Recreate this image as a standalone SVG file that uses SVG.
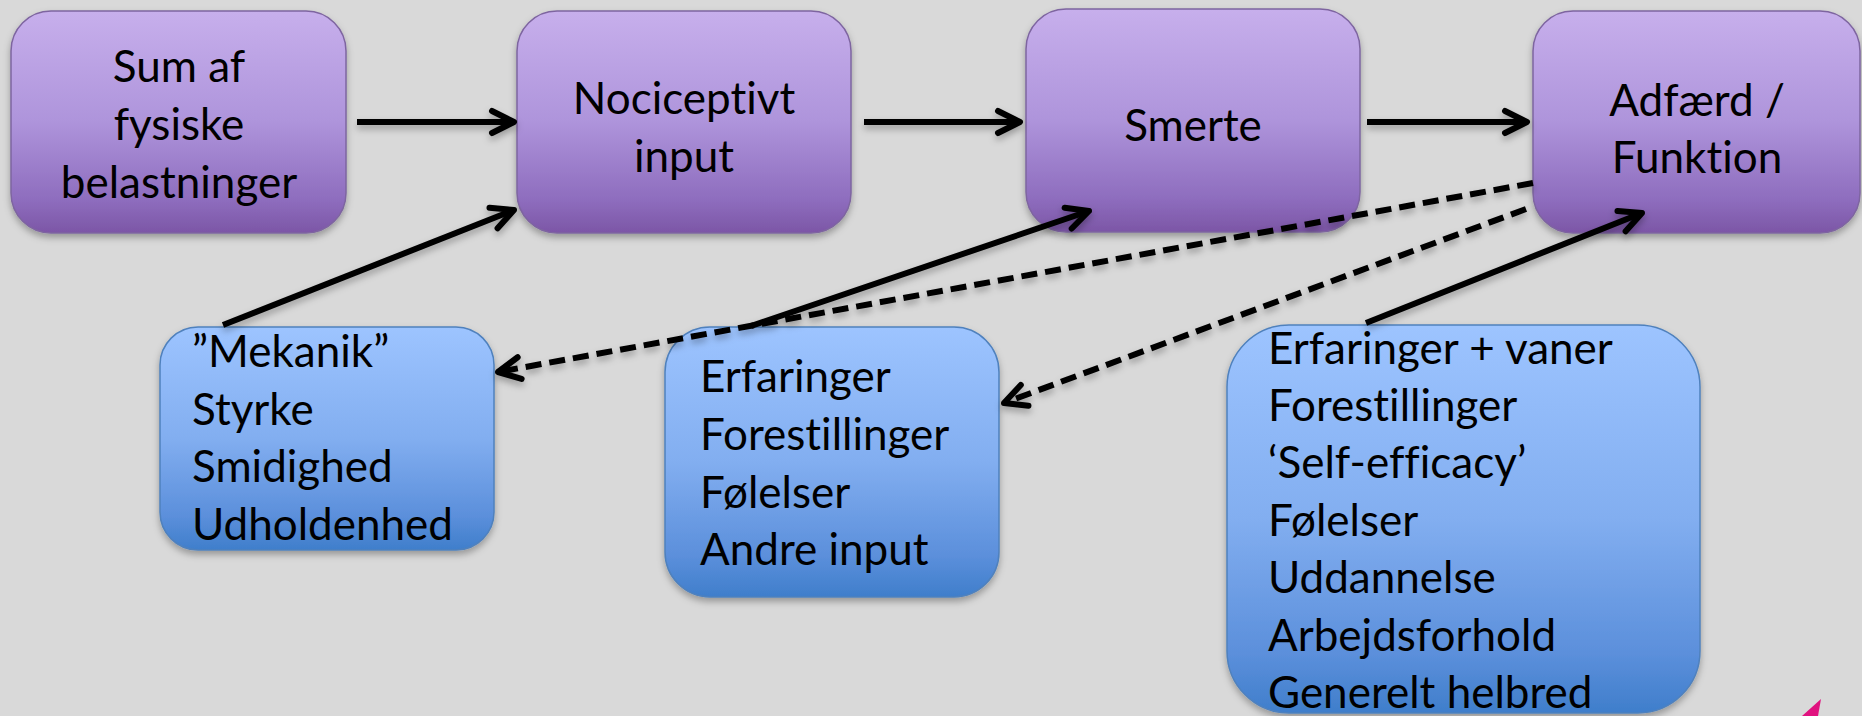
<svg xmlns="http://www.w3.org/2000/svg" width="1862" height="716" viewBox="0 0 1862 716">
  <defs>
    <linearGradient id="gPurple" x1="0" y1="0" x2="0" y2="1">
      <stop offset="0" stop-color="#C7AFEC"/>
      <stop offset="0.5" stop-color="#AE94DB"/>
      <stop offset="0.85" stop-color="#8E6DBE"/>
      <stop offset="1" stop-color="#7C56A6"/>
    </linearGradient>
    <linearGradient id="gBlue" x1="0" y1="0" x2="0" y2="1">
      <stop offset="0" stop-color="#9DC4FF"/>
      <stop offset="0.5" stop-color="#82AEF0"/>
      <stop offset="0.85" stop-color="#5B8FDB"/>
      <stop offset="1" stop-color="#3F7ECB"/>
    </linearGradient>
    <filter id="shadow" x="-10%" y="-10%" width="120%" height="130%">
      <feDropShadow dx="0" dy="4" stdDeviation="3.5" flood-color="#000" flood-opacity="0.3"/>
    </filter>
    <marker id="arrow" viewBox="-28 -16 32 32" markerUnits="userSpaceOnUse" markerWidth="32" markerHeight="32" refX="0" refY="0" orient="auto">
      <path d="M-22,-11 L0,0 L-22,11" fill="none" stroke="#000" stroke-width="6" stroke-linecap="round" stroke-linejoin="round"/>
    </marker>
    <style>
      .purple { fill: url(#gPurple); stroke: #7E65A0; stroke-width: 1.5; filter: url(#shadow); }
      .blue { fill: url(#gBlue); stroke: #4F81BD; stroke-width: 1.5; filter: url(#shadow); }
      .t { font-family: Lato, "Liberation Sans", sans-serif; font-size: 44px; fill: #000; font-variant-ligatures: none; font-feature-settings: "liga" 0, "clig" 0, "dlig" 0; }
      .c { text-anchor: middle; }
      .solid { fill: none; stroke: #000; stroke-width: 6; marker-end: url(#arrow); }
      .dash { fill: none; stroke: #000; stroke-width: 6; stroke-dasharray: 16 8; marker-end: url(#arrow); }
    </style>
  </defs>
  <rect x="0" y="0" width="1862" height="716" fill="#D9D9D9"/>

  <g id="n-sum">
    <rect class="purple" x="11" y="11" width="335" height="222" rx="40"/>
    <text class="t c" x="179" y="82">Sum af</text>
    <text class="t c" x="179" y="140">fysiske</text>
    <text class="t c" x="179" y="198">belastninger</text>
  </g>
  <g id="n-noci">
    <rect class="purple" x="517" y="11" width="334" height="222" rx="40"/>
    <text class="t c" x="684" y="114">Nociceptivt</text>
    <text class="t c" x="684" y="172">input</text>
  </g>
  <g id="n-smerte">
    <rect class="purple" x="1026" y="9" width="334" height="223" rx="40"/>
    <text class="t c" x="1193" y="141">Smerte</text>
  </g>
  <g id="n-adfaerd">
    <rect class="purple" x="1533" y="11" width="327" height="222" rx="40"/>
    <text class="t c" x="1697" y="116">Adfærd /</text>
    <text class="t c" x="1697" y="173">Funktion</text>
  </g>

  <g id="n-mekanik">
    <rect class="blue" x="160" y="327" width="334" height="223" rx="38"/>
    <text class="t" x="192" y="367">”Mekanik”</text>
    <text class="t" x="192" y="425">Styrke</text>
    <text class="t" x="192" y="482">Smidighed</text>
    <text class="t" x="192" y="540">Udholdenhed</text>
  </g>
  <g id="n-erfaringer">
    <rect class="blue" x="665" y="327" width="334" height="270" rx="45"/>
    <text class="t" x="700" y="392">Erfaringer</text>
    <text class="t" x="700" y="450">Forestillinger</text>
    <text class="t" x="700" y="508">Følelser</text>
    <text class="t" x="700" y="565">Andre input</text>
  </g>
  <g id="n-vaner">
    <rect class="blue" x="1227" y="325" width="473" height="388" rx="62"/>
    <text class="t" x="1268" y="364">Erfaringer + vaner</text>
    <text class="t" x="1268" y="421">Forestillinger</text>
    <text class="t" x="1268" y="478">‘Self-efficacy’</text>
    <text class="t" x="1268" y="536">Følelser</text>
    <text class="t" x="1268" y="593">Uddannelse</text>
    <text class="t" x="1268" y="651">Arbejdsforhold</text>
    <text class="t" x="1268" y="708">Generelt helbred</text>
  </g>

  <g id="connectors" filter="url(#shadow)">
    <line class="solid" x1="357" y1="122" x2="514" y2="122"/>
    <line class="solid" x1="864" y1="122" x2="1020" y2="122"/>
    <line class="solid" x1="1367" y1="122" x2="1527" y2="122"/>
    <line class="solid" x1="223" y1="325" x2="514" y2="210"/>
    <line class="solid" x1="751" y1="326" x2="1089" y2="211"/>
    <line class="solid" x1="1366" y1="323" x2="1642" y2="213"/>
    <line class="dash" x1="1533" y1="183" x2="498" y2="372"/>
    <line class="dash" x1="1526" y1="209" x2="1004" y2="403"/>
  </g>

  <polygon points="1821,699 1802,716 1818,716" fill="#E0127F"/>
</svg>
